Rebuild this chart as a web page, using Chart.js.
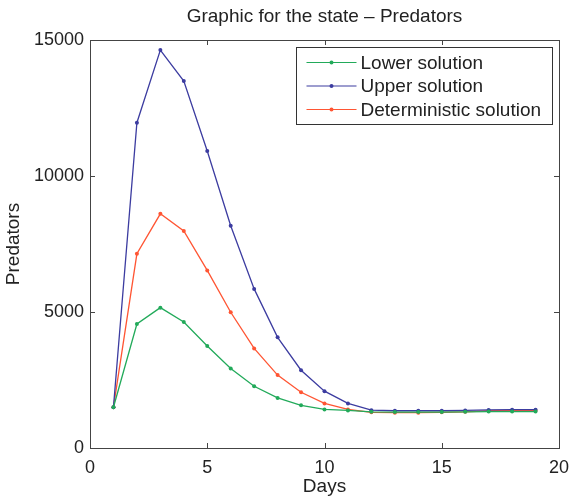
<!DOCTYPE html>
<html>
<head>
<meta charset="utf-8">
<script src="https://cdn.jsdelivr.net/npm/chart.js@4"></script>
<style>
  html, body { margin: 0; padding: 0; background: #fff; }
  #wrap { width: 569px; height: 500px; }
</style>
</head>
<body>
<div id="wrap"><canvas id="myChart" width="569" height="500"></canvas></div>
<script>
// data
var days = [1, 2, 3, 4, 5, 6, 7, 8, 9, 10, 11, 12, 13, 14, 15, 16, 17, 18, 19];
var lowerSol = [1500, 4560, 5160, 4630, 3750, 2920, 2270, 1840, 1570, 1420, 1380, 1330, 1320, 1320, 1320, 1330, 1340, 1340, 1340];
var upperSol = [1500, 11960, 14630, 13490, 10920, 8170, 5850, 4070, 2860, 2090, 1640, 1390, 1370, 1370, 1370, 1380, 1400, 1410, 1410];
var detSol = [1500, 7140, 8610, 7980, 6530, 4990, 3660, 2680, 2050, 1640, 1420, 1310, 1300, 1300, 1310, 1330, 1370, 1380, 1380];
var seriesNames = ['Lower solution', 'Upper solution', 'Deterministic solution'];
var xTicks = [0, 5, 10, 15, 20];
var yTicks = [0, 5000, 10000, 15000];
var chartTitle = 'Graphic for the state \u2013 Predators';

var colors = ['#22aa5a', '#3c3ca0', '#ff5533'];
var FONT = '"Liberation Sans", Arial, sans-serif';

function toPoints(vals) {
    return days.map((d, i) => ({ x: d, y: vals[i] }));
}

function makeSet(label, vals, color) {
    return {
        label: label,
        data: toPoints(vals),
        borderColor: color,
        backgroundColor: color,
        borderWidth: 1.3,
        pointRadius: 2,
        pointBorderWidth: 0,
        pointHoverRadius: 2,
        tension: 0
    };
}

// matlab style box with inward ticks, title over the axes, framed legend
var boxPlugin = {
    id: 'box',
    afterDraw(chart) {
        var ctx = chart.ctx, a = chart.chartArea;
        var xs = chart.scales.x, ys = chart.scales.y;
        ctx.save();
        ctx.strokeStyle = '#444';
        ctx.lineWidth = 1;
        ctx.strokeRect(Math.round(a.left) + 0.5, Math.round(a.top) + 0.5,
            Math.round(a.right - a.left), Math.round(a.bottom - a.top));
        ctx.beginPath();
        xTicks.forEach(v => {
            var px = Math.round(xs.getPixelForValue(v)) + 0.5;
            ctx.moveTo(px, a.bottom); ctx.lineTo(px, a.bottom - 5);
            ctx.moveTo(px, a.top); ctx.lineTo(px, a.top + 5);
        });
        yTicks.forEach(v => {
            var py = Math.round(ys.getPixelForValue(v)) + 0.5;
            ctx.moveTo(a.left, py); ctx.lineTo(a.left + 5, py);
            ctx.moveTo(a.right, py); ctx.lineTo(a.right - 5, py);
        });
        ctx.stroke();

        // title centred over the plot box
        ctx.fillStyle = '#222';
        ctx.font = '19px ' + FONT;
        ctx.textAlign = 'center';
        ctx.textBaseline = 'middle';
        ctx.fillText(chartTitle, (a.left + a.right) / 2, 17);

        var w = 256, h = 77;
        var bx = Math.round(a.right - 7 - w) + 0.5, by = Math.round(a.top + 7) + 0.5;
        ctx.fillStyle = '#fff';
        ctx.fillRect(bx, by, w, h);
        ctx.strokeStyle = '#333';
        ctx.strokeRect(bx, by, w, h);
        ctx.textAlign = 'left';
        chart.data.datasets.forEach((ds, i) => {
            var y = by + 15 + i * 23.5;
            ctx.strokeStyle = ds.borderColor;
            ctx.lineWidth = 1.2;
            ctx.beginPath();
            ctx.moveTo(bx + 10, y); ctx.lineTo(bx + 60, y);
            ctx.stroke();
            ctx.fillStyle = ds.borderColor;
            ctx.beginPath();
            ctx.arc(bx + 35, y, 2, 0, Math.PI * 2);
            ctx.fill();
            ctx.fillStyle = '#222';
            ctx.fillText(ds.label, bx + 64, y + 1);
        });
        ctx.restore();
    }
};

var ctx = document.getElementById('myChart').getContext('2d');
var myChart = new Chart(ctx, {
    type: 'line',
    data: {
        datasets: [
            makeSet(seriesNames[0], lowerSol, colors[0]),
            makeSet(seriesNames[1], upperSol, colors[1]),
            makeSet(seriesNames[2], detSol, colors[2])
        ]
    },
    options: {
        responsive: false,
        animation: false,
        layout: { padding: { left: 0, right: 10, top: 40, bottom: 0 } },
        plugins: {
            legend: { display: false },
            tooltip: { enabled: false },
            title: { display: false }
        },
        scales: {
            x: {
                type: 'linear',
                min: 0,
                max: 20,
                afterBuildTicks: (s) => { s.ticks = xTicks.map(v => ({ value: v })); },
                afterFit: (s) => { s.height = 52; s.paddingLeft = 0; s.paddingRight = 0; },
                grid: { display: false, drawTicks: false },
                border: { display: false },
                ticks: { color: '#222', font: { family: FONT, size: 18 }, padding: 9 },
                title: {
                    display: true,
                    text: 'Days',
                    color: '#222',
                    font: { family: FONT, size: 19 },
                    padding: { top: 0, bottom: 2 }
                }
            },
            y: {
                min: 0,
                max: 15000,
                afterBuildTicks: (s) => { s.ticks = yTicks.map(v => ({ value: v })); },
                afterFit: (s) => { s.width = 90; s.paddingTop = 0; s.paddingBottom = 0; },
                grid: { display: false, drawTicks: false },
                border: { display: false },
                ticks: {
                    color: '#222',
                    font: { family: FONT, size: 18 },
                    padding: 6,
                    callback: (v) => String(v)
                },
                title: {
                    display: true,
                    text: 'Predators',
                    color: '#222',
                    font: { family: FONT, size: 19 },
                    padding: { top: 2, bottom: 0 }
                }
            }
        }
    },
    plugins: [boxPlugin]
});
</script>
</body>
</html>
